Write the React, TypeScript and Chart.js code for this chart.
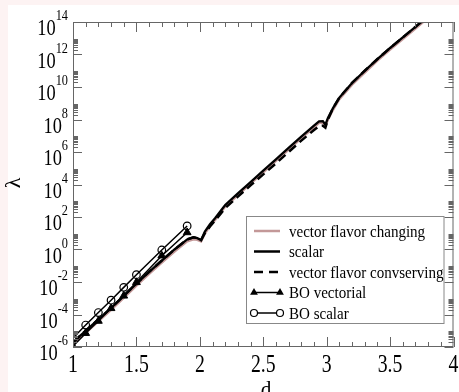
import React, { useEffect, useRef } from "react";
import { Chart, registerables } from "chart.js";

Chart.register(...registerables);

// ---- data (log10 of lambda) ----
const dValues = [1.0, 1.1, 1.2, 1.3, 1.4, 1.5, 1.6, 1.7, 1.8, 1.9, 1.95, 1.98, 2.01, 2.04, 2.08, 2.12, 2.2, 2.3, 2.4, 2.5, 2.6, 2.7, 2.8, 2.9, 2.94, 2.97, 2.99, 3.01, 3.05, 3.1, 3.2, 3.3, 3.4, 3.5, 3.6, 3.7, 3.76];
const scalarLog = [-5.7, -5.0, -4.3, -3.6, -2.85, -2.1, -1.38, -0.68, 0.0, 0.62, 0.75, 0.7, 0.58, 1.1, 1.55, 1.92, 2.74, 3.45, 4.15, 4.85, 5.55, 6.25, 6.95, 7.62, 7.88, 7.9, 7.68, 8.1, 8.7, 9.35, 10.25, 11.0, 11.72, 12.4, 13.05, 13.7, 14.1];
const conservingLog = [-5.7, -5.0, -4.3, -3.6, -2.85, -2.1, -1.38, -0.68, 0.0, 0.62, 0.75, 0.7, 0.58, 1.0, 1.42, 1.78, 2.55, 3.25, 3.95, 4.62, 5.3, 6.0, 6.7, 7.35, 7.6, 7.62, 7.5, 8.0, 8.7, 9.35, 10.25, 11.0, 11.72, 12.4, 13.05, 13.7, 14.1];
const changingLog = [-5.8, -5.12, -4.42, -3.72, -2.97, -2.22, -1.5, -0.8, -0.12, 0.5, 0.63, 0.6, 0.5, 1.0, 1.45, 1.82, 2.64, 3.35, 4.05, 4.75, 5.45, 6.15, 6.85, 7.52, 7.8, 7.82, 7.6, 8.0, 8.6, 9.25, 10.15, 10.88, 11.62, 12.3, 12.95, 13.6, 14.0];

const boD = [1.0, 1.1, 1.2, 1.3, 1.4, 1.5, 1.7, 1.9];
const boVectorialLog = [-5.95, -5.15, -4.4, -3.62, -2.85, -2.02, -0.38, 1.05];
const boScalarLog = [-5.45, -4.65, -3.88, -3.12, -2.33, -1.55, -0.03, 1.45];

const xTicks = [1, 1.5, 2, 2.5, 3, 3.5, 4];
const xTickLabels = ["1", "1.5", "2", "2.5", "3", "3.5", "4"];
const yTickExps = [-6, -4, -2, 0, 2, 4, 6, 8, 10, 12, 14];

const legendLabels = [
  "vector flavor changing",
  "scalar",
  "vector flavor convserving",
  "BO vectorial",
  "BO scalar",
];

const PINK = "#c39898";
const SERIF = '"Liberation Serif", "Times New Roman", serif';

function toPoints(xs: number[], logs: number[]) {
  return xs.map((x, i) => ({ x, y: Math.pow(10, logs[i]) }));
}

function drawScaledText(ctx: CanvasRenderingContext2D, text: string, x: number, y: number, size: number, sx: number, align: CanvasTextAlign) {
  ctx.save();
  ctx.translate(x, y);
  ctx.scale(sx, 1);
  ctx.font = `${size}px ${SERIF}`;
  ctx.textAlign = align;
  ctx.textBaseline = "alphabetic";
  ctx.fillStyle = "#000";
  ctx.fillText(text, 0, 0);
  ctx.restore();
}

const decorPlugin = {
  id: "decor",
  beforeDraw(chart: any) {
    const ctx = chart.ctx as CanvasRenderingContext2D;
    ctx.save();
    ctx.fillStyle = "#fdf3f3";
    ctx.fillRect(0, 0, chart.width, chart.height);
    ctx.fillStyle = "#ffffff";
    ctx.fillRect(8, 5, chart.width - 8, chart.height - 5);
    ctx.restore();
  },
  afterDraw(chart: any) {
    const ctx = chart.ctx as CanvasRenderingContext2D;
    const xs = chart.scales.x;
    const ys = chart.scales.y;
    const { left, right, top, bottom } = chart.chartArea;
    ctx.save();
    // frame
    ctx.strokeStyle = "#666";
    ctx.lineWidth = 1;
    ctx.strokeRect(left + 0.5, top + 0.5, right - left - 1, bottom - top - 1);

    // x ticks (inward, bottom and top)
    ctx.beginPath();
    for (let i = 10; i <= 40; i++) {
      const v = i / 10;
      const px = Math.round(xs.getPixelForValue(v)) + 0.5;
      const len = i % 5 === 0 ? 10 : 5;
      ctx.moveTo(px, bottom);
      ctx.lineTo(px, bottom - len);
      ctx.moveTo(px, top);
      ctx.lineTo(px, top + len);
    }
    // y ticks (inward, left and right)
    yTickExps.forEach((e) => {
      const py = Math.round(ys.getPixelForValue(Math.pow(10, e))) + 0.5;
      ctx.moveTo(left, py);
      ctx.lineTo(left + 9, py);
      ctx.moveTo(right, py);
      ctx.lineTo(right - 9, py);
      if (e < 14) {
        for (let k = 2; k <= 9; k++) {
          const pm = Math.round(ys.getPixelForValue(k * Math.pow(10, e))) + 0.5;
          ctx.moveTo(left, pm);
          ctx.lineTo(left + 5, pm);
          ctx.moveTo(right, pm);
          ctx.lineTo(right - 5, pm);
        }
      }
    });
    ctx.stroke();

    // x tick labels
    xTicks.forEach((v, i) => {
      const px = xs.getPixelForValue(v);
      drawScaledText(ctx, xTickLabels[i], px, 372, 25, 0.79, "center");
    });

    // y tick labels 10^e
    yTickExps.forEach((e) => {
      const py = ys.getPixelForValue(Math.pow(10, e));
      const exp = String(e);
      ctx.font = `15px ${SERIF}`;
      const we = ctx.measureText(exp).width * 0.82;
      ctx.font = `23px ${SERIF}`;
      const wb = ctx.measureText("10").width * 0.8;
      const rx = left - 5;
      drawScaledText(ctx, "10", rx - we - wb, py + 13, 23, 0.8, "left");
      drawScaledText(ctx, exp, rx - we, py - 2, 15, 0.82, "left");
    });

    // axis titles
    ctx.save();
    ctx.translate(14, 183);
    ctx.rotate(-Math.PI / 2);
    ctx.font = `22px ${SERIF}`;
    ctx.textAlign = "center";
    ctx.textBaseline = "middle";
    ctx.fillStyle = "#000";
    ctx.fillText("λ", 0, 0);
    ctx.restore();
    drawScaledText(ctx, "d", 266, 398, 25, 0.85, "center");

    // legend
    const bx = 246.5, by = 216.5, bw = 197.5, bh = 107;
    ctx.fillStyle = "#fff";
    ctx.fillRect(bx, by, bw, bh);
    ctx.strokeStyle = "#888";
    ctx.lineWidth = 1;
    ctx.strokeRect(bx, by, bw, bh);
    const x0 = 254, x1 = 280;
    legendLabels.forEach((label, i) => {
      const y = 231 + i * 20.5;
      ctx.save();
      ctx.beginPath();
      ctx.moveTo(x0, y);
      ctx.lineTo(x1, y);
      if (i === 0) { ctx.strokeStyle = PINK; ctx.lineWidth = 2.5; }
      else if (i === 1) { ctx.strokeStyle = "#000"; ctx.lineWidth = 2.5; }
      else if (i === 2) { ctx.strokeStyle = "#000"; ctx.lineWidth = 2.5; ctx.setLineDash([9, 6]); }
      else { ctx.strokeStyle = "#000"; ctx.lineWidth = 1.5; }
      ctx.stroke();
      ctx.setLineDash([]);
      if (i === 3) {
        [x0, x1].forEach((cx) => {
          const r = 4.5;
          ctx.beginPath();
          ctx.moveTo(cx, y - r);
          ctx.lineTo(cx - r * 0.866, y + r * 0.5);
          ctx.lineTo(cx + r * 0.866, y + r * 0.5);
          ctx.closePath();
          ctx.fillStyle = "#000";
          ctx.fill();
        });
      }
      if (i === 4) {
        [x0, x1].forEach((cx) => {
          ctx.beginPath();
          ctx.arc(cx, y, 3.5, 0, Math.PI * 2);
          ctx.fillStyle = "#fff";
          ctx.fill();
          ctx.lineWidth = 1.2;
          ctx.stroke();
        });
      }
      ctx.restore();
      drawScaledText(ctx, label, 289, y + 5.5, 16, 0.94, "left");
    });
    ctx.restore();
  },
};

export default function App() {
  const ref = useRef<HTMLCanvasElement | null>(null);
  useEffect(() => {
    if (!ref.current) return;
    const chart = new Chart(ref.current, {
      type: "line",
      data: {
        datasets: [
          {
            label: legendLabels[0],
            data: toPoints(dValues, changingLog),
            borderColor: PINK,
            borderWidth: 2.5,
            pointRadius: 0,
            order: 5,
          },
          {
            label: legendLabels[2],
            data: toPoints(dValues, conservingLog),
            borderColor: "#000",
            borderWidth: 2.5,
            borderDash: [9, 5],
            pointRadius: 0,
            order: 4,
          },
          {
            label: legendLabels[1],
            data: toPoints(dValues, scalarLog),
            borderColor: "#000",
            borderWidth: 2.3,
            pointRadius: 0,
            order: 3,
          },
          {
            label: legendLabels[3],
            data: toPoints(boD, boVectorialLog),
            borderColor: "#000",
            borderWidth: 1.5,
            pointStyle: "triangle",
            pointRadius: 4.5,
            pointBackgroundColor: "#000",
            pointBorderColor: "#000",
            pointBorderWidth: 1,
            order: 2,
          },
          {
            label: legendLabels[4],
            data: toPoints(boD, boScalarLog),
            borderColor: "#000",
            borderWidth: 1.5,
            pointStyle: "circle",
            pointRadius: 3.8,
            pointBackgroundColor: "rgba(0,0,0,0)",
            pointBorderColor: "#000",
            pointBorderWidth: 1.2,
            order: 1,
          },
        ],
      },
      options: {
        animation: false,
        responsive: false,
        devicePixelRatio: 1,
        parsing: true,
        layout: { padding: { left: 73, top: 22, right: 1, bottom: 45 } },
        plugins: { legend: { display: false }, tooltip: { enabled: false } },
        scales: {
          x: { type: "linear", min: 1, max: 4, display: false },
          y: { type: "logarithmic", min: 1e-6, max: 1e14, display: false },
        },
      },
      plugins: [decorPlugin],
    });
    return () => chart.destroy();
  }, []);
  return (
    <canvas
      ref={ref}
      width={459}
      height={392}
      style={{ position: "fixed", left: 0, top: 0, width: 459, height: 392 }}
    />
  );
}
